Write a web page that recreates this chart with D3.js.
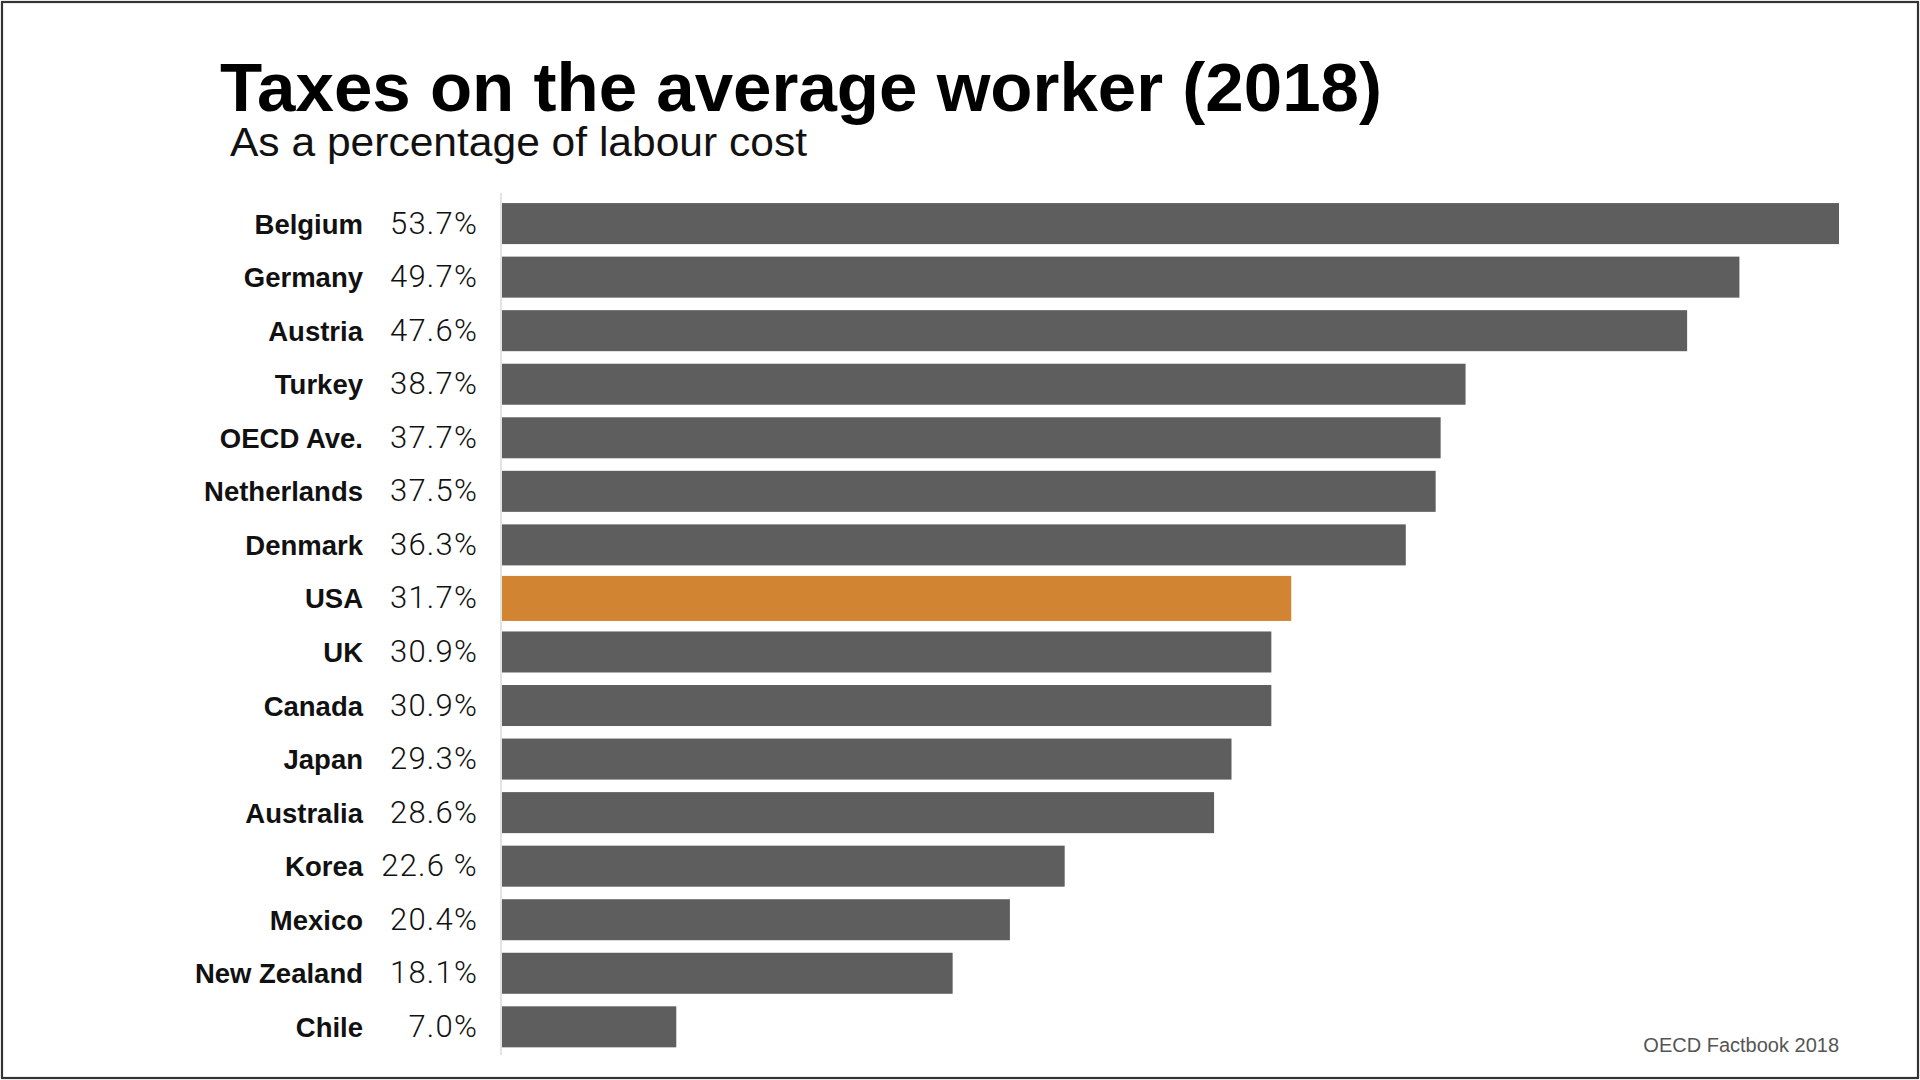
<!DOCTYPE html>
<html>
<head>
<meta charset="utf-8">
<script src="https://cdn.jsdelivr.net/npm/d3@7"></script>
<style>
  html, body { margin: 0; padding: 0; background: #fff; }
  svg { display: block; }
</style>
</head>
<body>
<svg id="chart" width="1920" height="1080"></svg>
<script>
// ---- data ----
const countries = ["Belgium", "Germany", "Austria", "Turkey", "OECD Ave.", "Netherlands", "Denmark", "USA", "UK", "Canada", "Japan", "Australia", "Korea", "Mexico", "New Zealand", "Chile"];
const values = [53.7, 49.7, 47.6, 38.7, 37.7, 37.5, 36.3, 31.7, 30.9, 30.9, 29.3, 28.6, 22.6, 20.4, 18.1, 7.0];
const valueLabels = ["53.7%", "49.7%", "47.6%", "38.7%", "37.7%", "37.5%", "36.3%", "31.7%", "30.9%", "30.9%", "29.3%", "28.6%", "22.6 %", "20.4%", "18.1%", "7.0%"];
const highlighted = ["USA"];
const titleText = "Taxes on the average worker (2018)";
const subtitleText = "As a percentage of labour cost";
const sourceText = "OECD Factbook 2018";

const rows = countries.map((c, i) => ({ country: c, value: values[i], label: valueLabels[i] }));

// ---- layout ----
const W = 1920, H = 1080;
const svg = d3.select("#chart");
const gray = "#5e5e5e", orange = "#d18533";

svg.append("rect")
  .attr("x", 2).attr("y", 2).attr("width", W - 4).attr("height", H - 4)
  .attr("fill", "#fff").attr("stroke", "#333").attr("stroke-width", 2.2);

const x = d3.scaleLinear().domain([0, 53.7]).range([502, 1839]);
const y = d3.scaleBand().domain(countries).range([196.8, 1053.6])
  .paddingInner(0.234).paddingOuter(0.117);

// axis line
svg.append("line")
  .attr("x1", 501).attr("x2", 501).attr("y1", 193).attr("y2", 1055)
  .attr("stroke", "#d0d0d0").attr("stroke-width", 1.2);

// bars
svg.append("g").selectAll("rect").data(rows).join("rect")
  .attr("x", x(0))
  .attr("y", d => y(d.country) - (highlighted.includes(d.country) ? 2 : 0))
  .attr("width", d => x(d.value) - x(0))
  .attr("height", d => y.bandwidth() + (highlighted.includes(d.country) ? 4 : 0))
  .attr("fill", d => highlighted.includes(d.country) ? orange : gray);

// country labels
svg.append("g").selectAll("text").data(rows).join("text")
  .attr("x", 363)
  .attr("y", d => y(d.country) + y.bandwidth() / 2 + 10)
  .attr("text-anchor", "end")
  .attr("font-family", "'Liberation Sans', Arial, Helvetica, sans-serif")
  .attr("font-weight", "bold")
  .attr("font-size", 27.5)
  .attr("fill", "#111")
  .text(d => d.country);

// value labels
svg.append("g").selectAll("text").data(rows).join("text")
  .attr("x", 478)
  .attr("y", d => y(d.country) + y.bandwidth() / 2 + 10)
  .attr("text-anchor", "end")
  .attr("font-family", "Roboto, 'Liberation Sans', sans-serif")
  .attr("font-weight", 300)
  .attr("font-size", 31)
  .attr("letter-spacing", 1.2)
  .attr("fill", "#111")
  .text(d => d.label);

// title & subtitle
function fit(sel, w) {
  const len = sel.node().getComputedTextLength();
  if (Math.abs(len - w) > 2) sel.attr("textLength", w).attr("lengthAdjust", "spacingAndGlyphs");
}
const title = svg.append("text")
  .attr("x", 220).attr("y", 111)
  .attr("font-family", "'Liberation Sans', Arial, Helvetica, sans-serif")
  .attr("font-weight", "bold").attr("font-size", 68)
  .attr("fill", "#000")
  .text(titleText);
fit(title, 1162);

const subtitle = svg.append("text")
  .attr("x", 230).attr("y", 156)
  .attr("font-family", "'Liberation Sans', Arial, Helvetica, sans-serif")
  .attr("font-size", 40)
  .attr("fill", "#111")
  .text(subtitleText);
fit(subtitle, 577);

// source
svg.append("text")
  .attr("x", 1839).attr("y", 1052)
  .attr("text-anchor", "end")
  .attr("font-family", "'Liberation Sans', Arial, Helvetica, sans-serif")
  .attr("font-size", 20)
  .attr("fill", "#555")
  .text(sourceText);
</script>
</body>
</html>
